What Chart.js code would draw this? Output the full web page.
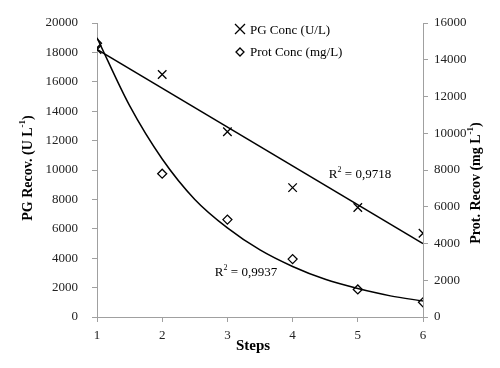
<!DOCTYPE html>
<html>
<head>
<meta charset="utf-8">
<script src="https://cdn.jsdelivr.net/npm/chart.js@4/dist/chart.umd.min.js"></script>
<style>
  html, body { margin: 0; background: #fff; }
  #chart { display: block; }
</style>
</head>
<body>
<canvas id="chart" width="500" height="368"></canvas>
<script>
// data
const steps = [1, 2, 3, 4, 5, 6];
const pgConc = [18200, 16500, 12600, 8800, 7450, 5700];
const protConc = [14900, 7800, 5300, 3150, 1500, 800];

// trend lines as drawn in the picture
const pgTrendSteps = [1, 6];
const pgTrend = [18200, 5000];
const protTrendSteps = [1, 1.5, 2, 2.5, 3, 3.5, 4, 4.5, 5, 5.5, 6];
const protTrend = [15200, 11500, 8600, 6400, 4850, 3650, 2750, 2050, 1550, 1150, 870];

const pgLabel = 'PG Conc (U/L)';
const protLabel = 'Prot Conc (mg/L)';
const pgR2 = '0,9718';
const protR2 = '0,9937';

const serif = "'Liberation Serif', 'Times New Roman', serif";

function pts(xs, ys) {
    return xs.map((x, i) => ({ x: x, y: ys[i] }))
}

// draw text with a superscript part, centered on (x, y)
function richText(ctx, parts, x, y, size, bold) {
    const big = (bold ? 'bold ' : '') + size + 'px ' + serif;
    const small = (bold ? 'bold ' : '') + Math.round(size * 0.62) + 'px ' + serif;
    let total = 0;
    parts.forEach(p => {
        ctx.font = p.sup ? small : big;
        total += ctx.measureText(p.t).width;
    });
    let cx = x - total / 2;
    ctx.textBaseline = 'middle';
    ctx.textAlign = 'left';
    parts.forEach(p => {
        ctx.font = p.sup ? small : big;
        ctx.fillText(p.t, cx, p.sup ? y - size * 0.38 : y);
        cx += ctx.measureText(p.t).width;
    });
}

const extras = {
    id: 'extras',
    afterDraw(chart) {
        const ctx = chart.ctx;
        ctx.save();
        ctx.fillStyle = '#000';

        // axis titles
        ctx.save();
        ctx.translate(28, 168);
        ctx.rotate(-Math.PI / 2);
        richText(ctx, [{ t: 'PG Recov. (U L' }, { t: '-1', sup: true }, { t: ')' }], 0, 0, 14, true);
        ctx.restore();

        ctx.save();
        ctx.translate(476, 183);
        ctx.rotate(-Math.PI / 2);
        richText(ctx, [{ t: 'Prot. Recov (mg L' }, { t: '-1', sup: true }, { t: ')' }], 0, 0, 14, true);
        ctx.restore();

        richText(ctx, [{ t: 'Steps' }], 253, 346, 15, true);

        // R² labels
        richText(ctx, [{ t: 'R' }, { t: '2', sup: true }, { t: ' = ' + pgR2 }], 360, 175, 13, false);
        richText(ctx, [{ t: 'R' }, { t: '2', sup: true }, { t: ' = ' + protR2 }], 246, 273, 13, false);

        // legend
        ctx.strokeStyle = '#000';
        ctx.lineWidth = 1.3;
        let lx = 240, ly = 29;
        ctx.beginPath();
        ctx.moveTo(lx - 5, ly - 5); ctx.lineTo(lx + 5, ly + 5);
        ctx.moveTo(lx + 5, ly - 5); ctx.lineTo(lx - 5, ly + 5);
        ctx.stroke();
        ly = 52;
        ctx.beginPath();
        ctx.moveTo(lx, ly - 4); ctx.lineTo(lx + 4, ly); ctx.lineTo(lx, ly + 4); ctx.lineTo(lx - 4, ly);
        ctx.closePath();
        ctx.stroke();
        ctx.font = '13px ' + serif;
        ctx.textAlign = 'left';
        ctx.textBaseline = 'middle';
        ctx.fillText(pgLabel, 250, 31);
        ctx.fillText(protLabel, 250, 53);
        ctx.restore();
    }
};

const axisColor = '#a0a0a0';
const tickFont = { family: serif, size: 13 };
const plain = v => String(v);

new Chart(document.getElementById('chart').getContext('2d'), {
    type: 'scatter',
    data: {
        datasets: [
            {
                label: pgLabel + ' trend',
                data: pts(pgTrendSteps, pgTrend),
                yAxisID: 'y',
                showLine: true,
                borderColor: '#000',
                borderWidth: 1.5,
                pointRadius: 0
            },
            {
                label: protLabel + ' trend',
                data: pts(protTrendSteps, protTrend),
                yAxisID: 'y2',
                showLine: true,
                cubicInterpolationMode: 'monotone',
                borderColor: '#000',
                borderWidth: 1.5,
                pointRadius: 0
            },
            {
                label: pgLabel,
                data: pts(steps, pgConc),
                yAxisID: 'y',
                pointStyle: 'crossRot',
                pointRadius: 6,
                borderColor: '#000',
                borderWidth: 1.3
            },
            {
                label: protLabel,
                data: pts(steps, protConc),
                yAxisID: 'y2',
                pointStyle: 'rectRot',
                pointRadius: 4.5,
                backgroundColor: '#fff',
                borderColor: '#000',
                borderWidth: 1.3
            }
        ]
    },
    options: {
        responsive: false,
        animation: false,
        devicePixelRatio: 1,
        layout: { padding: { top: 23, left: 0, right: 0, bottom: 0 } },
        plugins: {
            legend: { display: false },
            tooltip: { enabled: false }
        },
        scales: {
            x: {
                type: 'linear',
                min: 1,
                max: 6,
                afterFit: s => { s.height = 51 },
                ticks: { stepSize: 1, color: '#222', font: tickFont, padding: 6, callback: plain },
                grid: { drawOnChartArea: false, color: axisColor, tickLength: 5 },
                border: { color: axisColor }
            },
            y: {
                position: 'left',
                min: 0,
                max: 20000,
                afterFit: s => { s.width = 97 },
                ticks: { stepSize: 2000, color: '#222', font: tickFont, padding: 14, callback: plain },
                grid: { drawOnChartArea: false, color: axisColor, tickLength: 5 },
                border: { color: axisColor }
            },
            y2: {
                position: 'right',
                min: 0,
                max: 16000,
                afterFit: s => { s.width = 77 },
                ticks: { stepSize: 2000, color: '#222', font: tickFont, padding: 6, callback: plain },
                grid: { drawOnChartArea: false, color: axisColor, tickLength: 5 },
                border: { color: axisColor }
            }
        }
    },
    plugins: [extras]
});
</script>
</body>
</html>
